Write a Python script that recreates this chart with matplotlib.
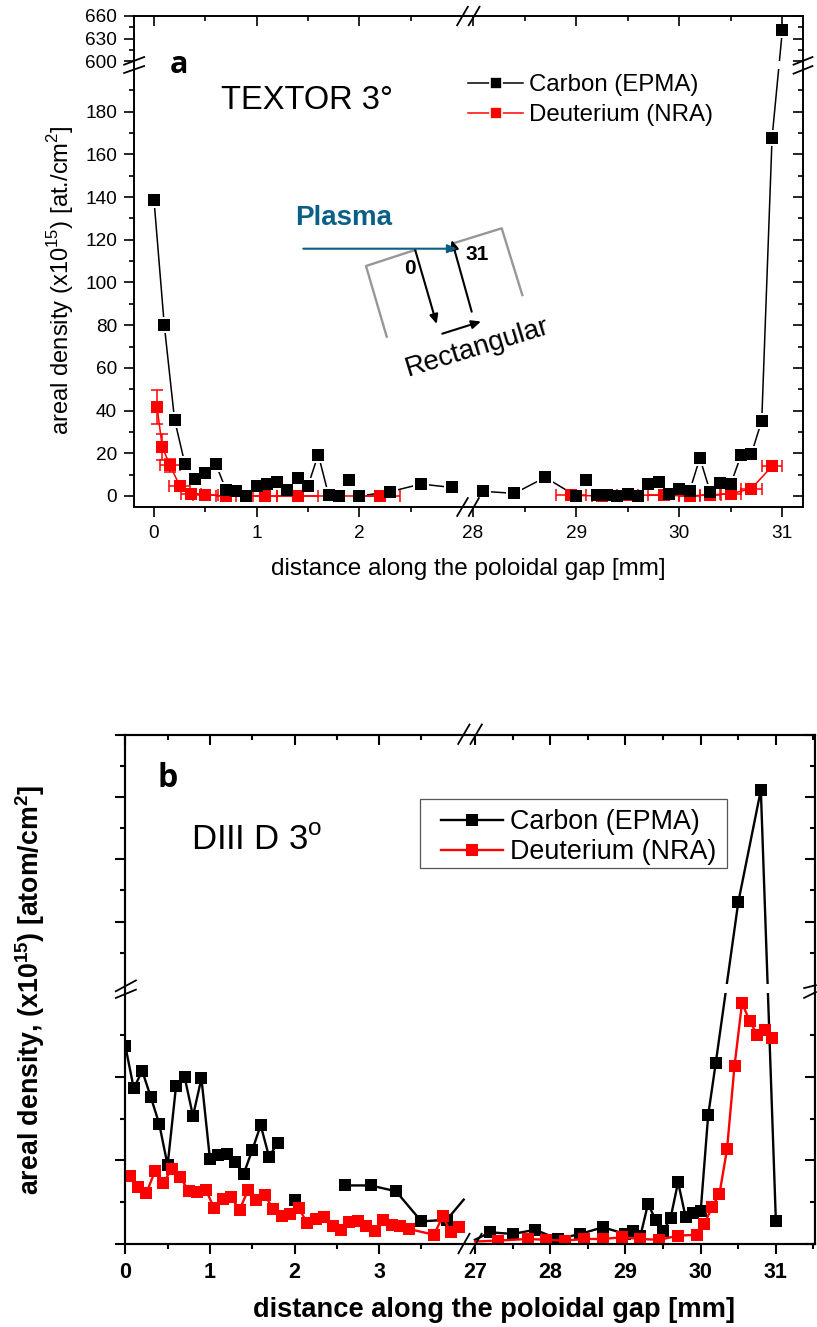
import numpy as np
import matplotlib
matplotlib.use("Agg")
import matplotlib.pyplot as plt
from matplotlib.lines import Line2D
from matplotlib.patches import Rectangle

plt.rcParams['font.family'] = ['Liberation Sans', 'DejaVu Sans']
plt.rcParams['mathtext.fontset'] = 'custom'
plt.rcParams['mathtext.rm'] = 'Liberation Sans'
plt.rcParams['mathtext.bf'] = 'Liberation Sans:bold'

W, H = 817, 1327
nan = np.nan

# panel a, TEXTOR
a_c_x = [0.0, 0.1, 0.2, 0.3, 0.4, 0.5, 0.6, 0.7, 0.8, 0.9, 1.0, 1.1, 1.2, 1.3, 1.4, 1.5, 1.6, 1.7, 1.8, 1.9,
         2.0, 2.3, 2.6, 2.9, nan, 28.1, 28.4, 28.7, 29.0, 29.1, 29.2, 29.3, 29.4, 29.5, 29.6, 29.7, 29.8,
         29.9, 30.0, 30.1, 30.2, 30.3, 30.4, 30.5, 30.6, 30.7, 30.8, 30.9, 31.0]
a_c_y = [138.5, 80, 35.8, 15.2, 8, 10.6, 15.2, 3, 2.2, 0, 4.8, 5.8, 6.6, 3, 8.3, 4.8, 19.4, 0.5, 0, 7.7,
         0, 2, 5.6, 4, nan, 2.2, 1.2, 8.7, 0, 7.7, 0.3, 0.3, 0, 1, 0, 5.8, 6.6,
         1, 3.4, 2.2, 17.8, 1.9, 5.9, 5.6, 19.2, 19.8, 35.3, 167.8, 641]
a_d_x = [0.03, 0.08, 0.155, 0.25, 0.36, 0.5, 0.7, 1.08, 1.4, 2.2, nan,
         28.95, 29.25, 29.5, 29.85, 30.1, 30.3, 30.5, 30.7, 30.9]
a_d_y = [41.6, 23, 14.4, 4.8, 1.1, 0.6, 0, 0, 0, 0, nan,
         0.3, 0, 0.5, 0.3, 0, 0.5, 1, 3.5, 13.9]
a_d_xerr = [0, 0, 0.1, 0.1, 0.1, 0.12, 0.1, 0.12, 0.2, 0.2, nan,
            0.15, 0.1, 0.1, 0.15, 0.1, 0.1, 0.1, 0.1, 0.1]
a_d_yerr = [8, 6, 3, 1, 0.5, 0.3, 0, 0, 0, 0, nan,
            0, 0, 0, 0, 0, 0, 0.5, 1, 1.5]

# panel b, DIII D (the y axis has no numbers in the original, units here are arbitrary)
b_c_x = [0.0, 0.1, 0.2, 0.3, 0.4, 0.5, 0.6, 0.7, 0.8, 0.9, 1.0, 1.1, 1.2, 1.3, 1.4, 1.5, 1.6, 1.7, 1.8, nan,
         2.0, nan, 2.6, 2.9, 3.2, 3.5, 3.8, nan,
         27.2, 27.5, 27.8, 28.1, 28.4, 28.7, 29.0, 29.1, 29.2, 29.3, 29.4, 29.5, 29.6, 29.7, 29.8, 29.9,
         30.0, 30.1, 30.2, 30.5, 30.8, 31.0]
b_c_y = [23.7, 18.6, 20.7, 17.6, 14.4, 9.4, 18.9, 20, 15.3, 19.8, 10.2, 10.6, 10.7, 9.8, 8.4, 11.2, 14.2, 10.4, 12.1, nan,
         5.3, nan, 7, 7, 6.3, 2.7, 2.9, nan,
         1.4, 1.2, 1.7, 0.6, 1.2, 2, 1.2, 1.5, 1, 4.8, 2.9, 1.5, 3.1, 7.4, 3.2, 3.7,
         3.9, 15.4, 21.6, 53.1, 71.1, 2.7]
b_d_x = [0.05, 0.15, 0.25, 0.35, 0.45, 0.55, 0.65, 0.75, 0.85, 0.95, 1.05, 1.15, 1.25, 1.35, 1.45, 1.55, 1.65, 1.75,
         1.85, 1.95, 2.05, 2.15, 2.25, 2.35, 2.45, 2.55, 2.65, 2.75, 2.85, 2.95, 3.05, 3.15, 3.25, 3.35,
         3.65, 3.75, 3.85, 3.95, nan,
         27.3, 27.7, 27.95, 28.2, 28.45, 28.7, 28.95, 29.2, 29.45, 29.7, 29.95,
         30.05, 30.15, 30.25, 30.35, 30.45, 30.55, 30.65, 30.75, 30.85, 30.95]
b_d_y = [8.1, 6.8, 6.1, 8.7, 7.3, 9, 8, 6.3, 6.2, 6.5, 4.3, 5.4, 5.6, 4.1, 6.4, 5.2, 5.8, 4.2,
         3.4, 3.6, 4.3, 2.5, 3, 3.2, 2.2, 1.7, 2.6, 2.7, 2.2, 1.6, 2.9, 2.3, 2.2, 1.8,
         1.1, 3.3, 1.4, 2, nan,
         0.4, 0.6, 0.5, 0.4, 0.6, 0.6, 0.8, 0.6, 0.5, 1, 1.1,
         2.4, 4.4, 6, 11.3, 21.3, 28.8, 26.7, 25, 25.6, 24.6]

# where the lines of panel b run into the x break, no symbol there
b_c_stub_left_x = [3.8, 4.0]
b_c_stub_left_y = [2.9, 5.3]
b_c_stub_right_x = [27.0, 27.2]
b_c_stub_right_y = [0.5, 1.4]
b_d_stub_right_x = [27.0, 27.3]
b_d_stub_right_y = [0.3, 0.4]

a_x_major = [0, 1, 2, 28, 29, 30, 31]
a_x_minor = [0.5, 1.5, 2.5, 28.5, 29.5, 30.5]
a_y_major = [0, 20, 40, 60, 80, 100, 120, 140, 160, 180, 600, 630, 660]
a_y_minor = [10, 30, 50, 70, 90, 110, 130, 150, 170, 190, 615, 645]
b_x_major = [0, 1, 2, 3, 27, 28, 29, 30, 31]
b_x_minor = [0.5, 1.5, 2.5, 3.5, 27.5, 28.5, 29.5, 30.5, 31.5]
b_y_major = [0, 10, 20, 50, 60, 70, 80]
b_y_minor = [5, 15, 25, 45, 55, 65, 75]

series_names = ["Carbon (EPMA)", "Deuterium (NRA)"]

fig = plt.figure(figsize=(W / 100, H / 100), dpi=100)


def funcs(vals, pos):
    return (lambda v: np.interp(v, vals, pos), lambda p: np.interp(p, pos, vals))


def make_axes(box, xvals, xpx, yvals, ypx, xmaj, xmin, ymaj, ymin, labelsize, bold, lw):
    l, t, r, b = box
    rect = [l / W, 1 - b / H, (r - l) / W, (b - t) / H]
    axes = []
    # second axes on top only for the inward ticks on the top and right
    for side in ("main", "in"):
        ax = fig.add_axes(rect)
        ax.set_xscale('function', functions=funcs(xvals, xpx))
        ax.set_yscale('function', functions=funcs(yvals, ypx))
        ax.set_xlim(xvals[0], xvals[-1])
        ax.set_ylim(yvals[0], yvals[-1])
        ax.set_xticks(xmaj)
        ax.set_xticks(xmin, minor=True)
        ax.set_yticks(ymaj)
        ax.set_yticks(ymin, minor=True)
        for s in ax.spines.values():
            s.set_linewidth(lw)
        if side == "main":
            ax.tick_params(which='major', direction='out', length=7.3, width=lw, pad=5)
            ax.tick_params(which='minor', direction='out', length=3.8, width=lw)
            ax.tick_params(axis='x', which='major', pad=6)
        else:
            ax.patch.set_visible(False)
            ax.tick_params(which='major', direction='in', length=7.3, width=lw,
                           bottom=False, left=False, top=True, right=True,
                           labelbottom=False, labelleft=False)
            ax.tick_params(which='minor', direction='in', length=3.8, width=lw,
                           bottom=False, left=False, top=True, right=True)
        axes.append(ax)
    main = axes[0]
    main.set_yticklabels([])
    for lab in main.get_xticklabels():
        lab.set_fontsize(labelsize)
        lab.set_fontweight('bold' if bold else 'normal')
    main.tick_params(axis='y', labelsize=labelsize)
    return main


def draw_line(ax, x, y, color, lw, halo=False):
    ax.plot(x, y, '-', color=color, lw=lw, zorder=2)
    if halo:
        ax.plot(x, y, 's', color='white', ms=11.5, mew=0, zorder=2.1)


# overlay in image pixels for the drawing, labels and break marks
over = fig.add_axes([0, 0, 1, 1], zorder=10)
over.set_xlim(0, W)
over.set_ylim(H, 0)
over.axis('off')

# ---------- panel a
ax_a = make_axes((134, 16, 803, 507),
                 [-0.195, 3.0, 28, 31.2], [0, 328, 339, 669],
                 [-5.16, 200, 600, 660], [0, 438, 446, 491],
                 a_x_major, a_x_minor, a_y_major, a_y_minor, 13.7, False, 1.2)
ax_a.set_yticks(a_y_major, [str(v) for v in a_y_major])
ax_a.axhspan(200, 600, color='white', lw=0, zorder=2.4)

draw_line(ax_a, a_c_x, a_c_y, 'black', 1.1, halo=True)
ax_a.errorbar(a_d_x, a_d_y, xerr=a_d_xerr, yerr=a_d_yerr, color='#ff0000', lw=1.1,
              capsize=4, capthick=1.1, zorder=2.2)
ax_a.plot(a_d_x, a_d_y, 's', color='#ff0000', ms=8, mew=0, zorder=2.3)
ax_a.plot(a_c_x, a_c_y, 's', color='black', ms=8, mew=0, zorder=2.35)

h_a = [Line2D([], [], color=c, lw=1.1, marker='s', ms=9.2, mfc=c, mec='white', mew=1.2)
       for c in ('black', '#ff0000')]
ax_a.legend(h_a, series_names, frameon=False, fontsize=17.3, loc='upper left',
            bbox_to_anchor=(468, 74), bbox_transform=over.transData, borderpad=0, borderaxespad=0,
            handlelength=2.29, handletextpad=0.25, labelspacing=0.33)

over.text(221, 109, "TEXTOR 3°", fontsize=23.5, ha='left', va='baseline')
over.text(170, 73, "a", fontsize=22, fontweight='bold', family='Open Sans', ha='left', va='baseline')
over.text(468, 569, "distance along the poloidal gap [mm]", fontsize=17.5, ha='center', va='center')
over.text(61, 280, r"areal density (x10$^{15}$) [at./cm$^{2}$]", fontsize=17.1, rotation=90,
          ha='center', va='center')

# sketch of the gap
blue = '#0a5f87'
over.plot([386.7, 366, 415], [336.7, 266, 250], color='#97979b', lw=1.7)
over.plot([453.3, 501.7, 522.3], [243.3, 228.3, 295], color='#97979b', lw=1.7)
for p0, p1, col in [((415, 249.3), (436.7, 324), 'black'), ((471.7, 311.7), (451.7, 240), 'black'),
                    ((442.3, 333.7), (481, 321.5), 'black'), ((303.3, 248.7), (457, 248.7), blue)]:
    over.annotate("", xy=p1, xytext=p0,
                  arrowprops=dict(arrowstyle='-|>,head_length=0.55,head_width=0.25', color=col, lw=1.5,
                                  shrinkA=0, shrinkB=0))
over.text(295, 225, "Plasma", color=blue, fontsize=20, fontweight='bold', ha='left', va='baseline')
over.text(410, 269, "0", fontsize=15, fontweight='bold', ha='center', va='center')
over.text(477, 254, "31", fontsize=15, fontweight='bold', ha='center', va='center')
over.text(477, 348, "Rectangular", fontsize=20, rotation=17, ha='center', va='center')

# ---------- panel b
ax_b = make_axes((125.3, 734.5, 815, 1244),
                 [0, 4, 27, 31.52], [0, 338.4, 349.7, 689.7],
                 [0, 30, 40, 80], [0, 251, 260, 509.5],
                 b_x_major, b_x_minor, b_y_major, b_y_minor, 15.5, True, 1.5)
ax_b.tick_params(axis='y', labelleft=False)
ax_b.axhspan(30, 40, color='white', lw=0, zorder=2.4)

ax_b.plot(b_c_x, b_c_y, '-', color='black', lw=1.7, marker='s', ms=8, mew=0, zorder=2)
ax_b.plot(b_c_stub_left_x, b_c_stub_left_y, '-', color='black', lw=1.7, zorder=2)
ax_b.plot(b_c_stub_right_x, b_c_stub_right_y, '-', color='black', lw=1.7, zorder=2)
ax_b.plot(b_d_stub_right_x, b_d_stub_right_y, '-', color='#ff0000', lw=1.7, zorder=2.1)
ax_b.plot(b_d_x, b_d_y, '-', color='#ff0000', lw=1.7, marker='s', ms=8, mew=0, zorder=2.2)

h_b = [Line2D([], [], color=c, lw=1.7, marker='s', ms=8.3, mew=0) for c in ('black', '#ff0000')]
ax_b.legend(h_b, series_names, fontsize=19.4, loc='upper left', frameon=False,
            bbox_to_anchor=(441, 809), bbox_transform=over.transData, borderaxespad=0,
            borderpad=0, handlelength=2.3, handletextpad=0.26, labelspacing=0.16)
over.add_patch(Rectangle((420, 799), 307, 69, fill=False, ec='#555555', lw=0.9))

over.text(191, 850, r"DIII D 3$^{\mathrm{o}}$", fontsize=25, ha='left', va='baseline')
over.text(158, 787, "b", fontsize=23, fontweight='bold', family='Open Sans', ha='left', va='baseline')
over.text(494, 1310, "distance along the poloidal gap [mm]", fontsize=19.6, fontweight='bold',
          ha='center', va='center')
over.text(30, 990, r"areal density, (x10$^{\mathbf{15}}$) [atom/cm$^{\mathbf{2}}$]", fontsize=19.3,
          fontweight='bold', rotation=90, ha='center', va='center')

# axis break marks
for xs, ys in [((123.3, 145), (65, 56.7)), ((123.3, 145), (73.3, 65.7)),
               ((792.7, 813.3), (65, 56.7)), ((792.7, 813.3), (74, 65.7)),
               ((456.7, 468.3), (26, 6)), ((468.3, 480), (26, 6)),
               ((456.7, 468.3), (516.7, 497.3)), ((468.3, 479.3), (516.7, 497.3)),
               ((115, 136.7), (991.7, 980)), ((115, 136.7), (998.3, 989.3)),
               ((803.3, 816.7), (988.3, 985)), ((803.3, 816.7), (998.3, 991.7)),
               ((457.7, 470), (744.7, 723.7)), ((470, 482.3), (744.7, 723.7)),
               ((458, 470), (1254, 1233)), ((470, 482), (1254, 1233))]:
    over.plot(xs, ys, color='black', lw=1.3, solid_capstyle='butt')

over.set_xlim(0, W)
over.set_ylim(H, 0)

fig.savefig("out.png", dpi=100)
